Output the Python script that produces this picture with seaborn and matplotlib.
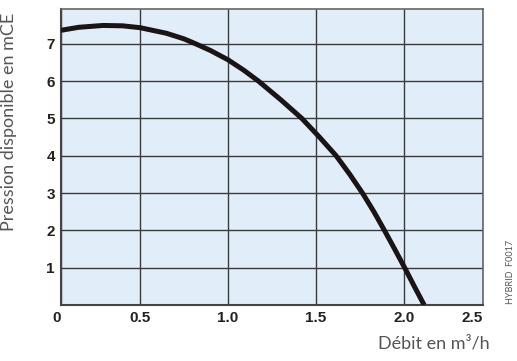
import matplotlib
matplotlib.use("Agg")
import matplotlib.pyplot as plt
import seaborn as sns
import pandas as pd

# Courbe débit / pression
debit = [0.05, 0.15, 0.29, 0.4, 0.5, 0.65, 0.75, 0.815, 0.9, 1.0, 1.09, 1.173,
         1.3, 1.42, 1.52, 1.615, 1.693, 1.765, 1.83, 1.89, 1.948, 2.005, 2.06, 2.116]
pression = [7.36, 7.44, 7.49, 7.48, 7.43, 7.28, 7.13, 7.0, 6.82, 6.57, 6.29, 6.0,
            5.5, 5.0, 4.5, 4.0, 3.5, 3.0, 2.5, 2.0, 1.5, 1.0, 0.5, 0.0]

# graduations
x_ticks = [0.05, 0.5, 1.0, 1.5, 2.0, 2.45]
x_labels = ["0", "0.5", "1.0", "1.5", "2.0", "2.5"]
y_ticks = [1, 2, 3, 4, 5, 6, 7]
y_labels = ["1", "2", "3", "4", "5", "6", "7"]

df = pd.DataFrame({"debit": debit, "pression": pression})

sns.set_style("white")
plt.rcParams["font.family"] = ["Lato", "DejaVu Sans"]

fig = plt.figure(figsize=(5.17, 3.61), dpi=100)
ax = fig.add_axes([0.118, 0.155, 0.816, 0.82])
ax.set_facecolor("#e1eef9")

sns.lineplot(data=df, x="debit", y="pression", sort=False, color="#1a1414",
             linewidth=3.6, ax=ax, zorder=3, solid_capstyle="butt")

ax.set_xlim(0.05, 2.45)
ax.set_ylim(0, 7.93)
ax.set_xticks(x_ticks)
ax.set_xticklabels(x_labels, fontsize=11, fontweight="bold", color="#222222",
                   family="Liberation Sans")
ax.set_yticks(y_ticks)
ax.set_yticklabels(y_labels, fontsize=11, fontweight="bold", color="#222222",
                   family="Liberation Sans")
ax.grid(True, color="#3a3a3a", linewidth=1.0, zorder=1)
ax.tick_params(axis="both", length=0, pad=4.5)
xl = ax.get_xticklabels()
xl[0].set_ha("right")
xl[-1].set_ha("right")

for s in ["left", "bottom"]:
    ax.spines[s].set_color("#444444")
    ax.spines[s].set_linewidth(1.5)
for s in ["top", "right"]:
    ax.spines[s].set_color("#666666")
    ax.spines[s].set_linewidth(1.2)

ax.set_xlabel("")
ax.set_ylabel("Pression disponible en mCE", fontsize=13, color="#555555")
ax.yaxis.set_label_coords(-0.105, 0.62)
fig.text(0.948, 0.025, "Débit en m³/h", ha="right", va="bottom",
         fontsize=13, color="#555555")
fig.text(0.987, 0.246, "HYBRID  F0017", rotation=90, ha="center", va="center",
         fontsize=6.5, color="#555555")

fig.savefig("out.png", dpi=100)
